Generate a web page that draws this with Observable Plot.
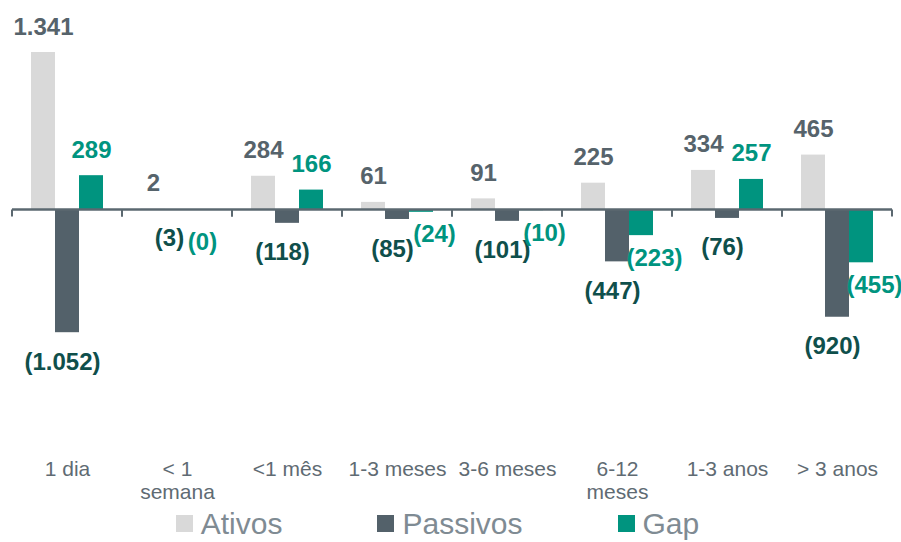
<!DOCTYPE html>
<html>
<head>
<meta charset="utf-8">
<script src="https://cdn.jsdelivr.net/npm/d3@7"></script>
<script src="https://cdn.jsdelivr.net/npm/@observablehq/plot@0.6"></script>
<style>
  html, body { margin: 0; padding: 0; background: #fff; }
  #chart { width: 901px; }
  #legend { display: flex; justify-content: center; align-items: center; gap: 95px; padding-right: 26px; padding-top: 5px;
    height: 37px; font-family: "Liberation Sans", Arial, sans-serif; font-size: 30px; color: #7f8b93; line-height: 1; }
  .item { display: flex; align-items: center; gap: 8px; }
  .sw { width: 17px; height: 17px; display: inline-block; }
</style>
</head>
<body>
<div id="chart"></div>
<div id="legend"></div>
<script>
const categories = ["1 dia", "< 1 semana", "<1 mês", "1-3 meses", "3-6 meses", "6-12 meses", "1-3 anos", "> 3 anos"];
const tickLabels = ["1 dia", "< 1\nsemana", "<1 mês", "1-3 meses", "3-6 meses", "6-12\nmeses", "1-3 anos", "> 3 anos"];
const series = ["Ativos", "Passivos", "Gap"];
const ativos   = [1341, 2, 284, 61, 91, 225, 334, 465];
const passivos = [-1052, -3, -118, -85, -101, -447, -76, -920];
const gap      = [289, -0.3, 166, -24, -10, -223, 257, -455];
const barColors = ["#d9d9d9", "#53616a", "#00947f"];
const labelColors = ["#56636b", "#0f4f4b", "#00947f"];

const rows = categories.flatMap((c, i) => [
  {cat: c, series: "Ativos", value: ativos[i]},
  {cat: c, series: "Passivos", value: passivos[i]},
  {cat: c, series: "Gap", value: gap[i]}
]);

const ptBR = d3.formatLocale({decimal: ",", thousands: ".", grouping: [3], currency: ["", ""]});
const f = ptBR.format(",.0f");
const fmt = d => d.value < 0 ? `(${f(Math.abs(d.value))})` : f(d.value);

const font = "Liberation Sans, Arial, sans-serif";
const labelBase = {fx: "cat", x: "series", y: "value", text: fmt, fontSize: 24, fontWeight: "bold", fontFamily: font};

const axisColor = "#5b6870";

const chart = Plot.plot({
  width: 901,
  height: 500,
  marginTop: 52,
  marginBottom: 50,
  marginLeft: 11,
  marginRight: 8,
  style: {fontFamily: font, overflow: "visible", background: "#fff"},
  fx: {domain: categories, paddingInner: 0, paddingOuter: 0, label: null, axis: null},
  x: {domain: series, paddingInner: 0, paddingOuter: 0.79, axis: null},
  y: {domain: [-2058, 1341], axis: null},
  color: {domain: series, range: barColors},
  marks: [
    Plot.barY(rows, {fx: "cat", x: "series", y: "value", fill: "series"}),
    Plot.ruleY([0], {
      stroke: axisColor, strokeWidth: 2.5,
      render(index, scales, values, dims, context, next) {
        const g = next(index, scales, values, dims, context);
        const y0 = scales.y(0);
        const ns = "http://www.w3.org/2000/svg";
        for (const xx of [dims.marginLeft, dims.width - dims.marginRight]) {
          const l = document.createElementNS(ns, "line");
          l.setAttribute("x1", xx); l.setAttribute("x2", xx);
          l.setAttribute("y1", y0); l.setAttribute("y2", y0 + 7);
          l.setAttribute("stroke", axisColor); l.setAttribute("stroke-width", 2);
          g.appendChild(l);
        }
        return g;
      }
    }),
    Plot.text(rows, {...labelBase, filter: d => d.series === "Ativos", lineAnchor: "bottom", dy: -18, fill: labelColors[0]}),
    Plot.text(rows, {...labelBase, filter: d => d.series === "Passivos" && d.value <= -10, lineAnchor: "top", dx: -5, dy: 20, fill: labelColors[1]}),
    Plot.text(rows, {...labelBase, filter: d => d.series === "Passivos" && d.value > -10, lineAnchor: "top", dx: -8, dy: 19, fill: labelColors[1]}),
    Plot.text(rows, {...labelBase, filter: d => d.series === "Gap" && d.value >= 0, lineAnchor: "bottom", dy: -18, fill: labelColors[2]}),
    Plot.text(rows, {...labelBase, filter: d => d.series === "Gap" && d.value < 0 && d.value > -1, lineAnchor: "top", dx: 1, dy: 23, fill: labelColors[2]}),
    Plot.text(rows, {...labelBase, filter: d => d.series === "Gap" && d.value <= -1, lineAnchor: "top", dx: 13, dy: 13, fill: labelColors[2]}),
    Plot.axisFx({anchor: "bottom", tickSize: 0, tickPadding: 9, fontSize: 21, lineHeight: 1.1, color: "#5f6b73", label: null,
      tickFormat: d => tickLabels[categories.indexOf(d)]})
  ]
});
document.getElementById("chart").appendChild(chart);

const legend = document.getElementById("legend");
series.forEach((s, i) => {
  const item = document.createElement("div");
  item.className = "item";
  const sw = document.createElement("span");
  sw.className = "sw";
  sw.style.background = barColors[i];
  const t = document.createElement("span");
  t.textContent = s;
  item.appendChild(sw); item.appendChild(t);
  legend.appendChild(item);
});
</script>
</body>
</html>
